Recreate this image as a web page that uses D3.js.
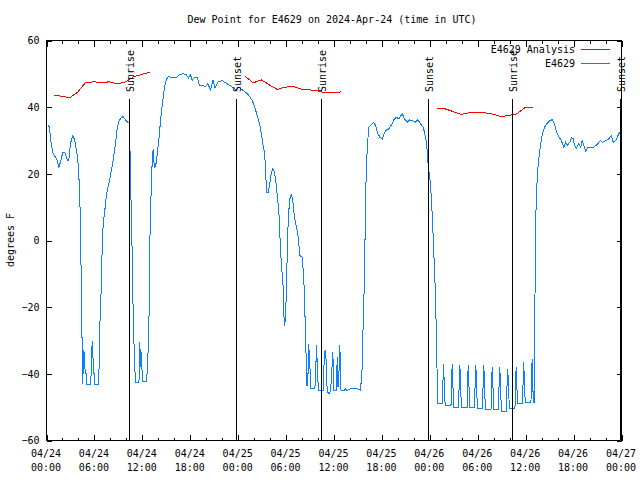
<!DOCTYPE html>
<html><head><meta charset="utf-8">
<script src="https://cdn.jsdelivr.net/npm/d3@7"></script>
<style>
html,body{margin:0;padding:0;background:#fff;}
svg{display:block;}
text{font-family:"DejaVu Sans Mono","Liberation Mono",monospace;font-size:10px;fill:#000;}
</style></head><body>
<svg id="chart" width="640" height="480"></svg>
<script>
const chartTitle = "Dew Point for E4629 on 2024-Apr-24 (time in UTC)";
const yAxisLabel = "degrees F";
const seriesNames = ["E4629 Analysis", "E4629"];
const seriesColors = ["#ff0000", "#0a80ff"];
const yTickValues = [-60, -40, -20, 0, 20, 40, 60];
const xTickHours = [0, 6, 12, 18, 24, 30, 36, 42, 48, 54, 60, 66, 72];
const xTickDayLabels = ["04/24","04/24","04/24","04/24","04/25","04/25","04/25","04/25","04/26","04/26","04/26","04/26","04/27"];
const xTickTimeLabels = ["00:00","06:00","12:00","18:00","00:00","06:00","12:00","18:00","00:00","06:00","12:00","18:00","00:00"];
const sunEventNames = ["Sunrise","Sunset","Sunrise","Sunset","Sunrise","Sunset"];
const sunEventHours = [10.31, 23.79, 34.31, 47.75, 58.27, 71.75];

// hours since 2024-04-24 00:00 UTC (null = gap)
const analysisHours = [0.9,1.9,2.9,3.9,4.9,5.9,6.9,7.9,8.9,9.9,10.9,11.9,12.9, 18,
  24.9,25.9,26.9,27.9,28.9,29.9,30.9,31.9,32.9,33.9,34.9,35.9,36.9, 42,
  48.9,49.9,50.9,51.9,52.9,53.9,54.9,55.9,56.9,57.9,58.9,59.9,60.9];
const analysisValues = [43.5,43.3,42.8,44.5,47.4,47.6,47.4,47.6,47.0,47.6,49.1,49.8,50.5, null,
  49.2,47.3,48.2,46.7,45.3,46.0,46.2,45.4,45.2,44.9,44.3,44.3,44.6, null,
  39.7,39.5,38.7,37.8,38.3,38.3,38.3,37.9,37.2,37.5,38.0,39.8,39.8];

const dewHours = [
  0.13,0.29,0.41,0.59,0.84,1.13,1.34,1.54,1.75,2.04,2.29,2.59,2.79,2.92,3.09,3.29,3.54,3.76,3.92,4.04,
  4.17,4.26,4.35,4.47,4.51,4.59,4.67,4.76,4.84,4.97,5.01,5.51,5.59,5.72,5.80,5.89,6.01,6.05,6.51,6.59,
  6.67,6.85,6.97,7.10,7.26,7.43,7.60,7.80,8.01,8.23,8.43,8.64,8.85,9.05,9.35,9.60,9.89,10.18,10.39,10.52,
  10.73,10.86,11.02,11.14,11.56,11.65,11.69,11.77,11.86,11.98,12.06,12.52,12.60,12.73,12.86,12.94,13.11,13.24,13.36,13.44,
  13.56,13.77,13.86,14.06,14.28,14.56,14.78,15.03,15.30,15.82,16.33,16.69,17.10,17.46,17.77,18.03,18.23,18.48,18.91,19.16,
  19.57,19.92,20.19,20.54,20.85,21.11,21.46,21.98,22.49,23.00,23.42,23.78,24.08,24.50,24.92,25.33,25.76,26.08,26.38,26.58,
  26.80,27.01,27.14,27.30,27.42,27.55,27.76,27.96,28.14,28.34,28.55,28.76,28.96,29.14,29.30,29.46,29.64,29.71,29.84,29.93,
  30.05,30.14,30.27,30.43,30.64,30.84,31.05,31.31,31.52,31.72,32.02,32.22,32.35,32.52,32.60,32.72,32.81,32.97,33.06,33.60,
  33.68,33.81,33.98,34.10,34.65,34.77,34.88,35.02,35.15,35.48,35.65,35.85,36.00,36.30,36.40,36.50,36.62,36.73,36.88,37.23,
  37.44,37.65,38.07,38.98,39.32,39.53,39.66,39.82,39.95,40.07,40.23,40.36,40.57,40.78,40.98,41.20,41.41,41.74,42.04,42.24,
  42.45,42.86,43.29,43.49,43.83,44.11,44.54,44.83,45.17,45.45,45.79,46.21,46.50,46.83,47.17,47.37,47.54,47.67,47.74,47.87,
  48.08,48.25,48.37,48.50,48.67,48.80,48.92,49.00,
  49.57,49.62,49.72,49.84,49.92,
  50.65,50.70,50.80,50.92,51.00,
  51.61,51.66,51.76,51.88,51.96,
  52.66,52.71,52.81,52.93,53.01,
  53.61,53.66,53.76,53.88,53.96,
  54.61,54.66,54.76,54.88,54.96,
  55.66,55.71,55.81,55.93,56.01,
  56.61,56.66,56.76,56.88,56.96,
  57.61,57.66,57.76,57.88,57.96,
  58.66,58.71,58.81,58.93,59.01,
  59.61,59.66,59.76,59.88,59.96,
  60.66,60.71,60.81,60.88,60.96,
  61.05,61.12,61.20,61.28,61.45,61.61,61.77,61.95,62.15,62.36,62.70,63.02,63.32,63.61,63.86,64.15,64.45,64.78,64.99,65.20,
  65.53,65.74,65.95,66.11,66.36,66.65,66.90,67.08,67.30,67.49,67.78,68.00,68.53,68.96,69.37,69.60,69.90,70.41,70.71,70.96,
  71.30,71.46,71.66,71.79];
const dewValues = [
  34.5,34.5,33,29,26,25,24,22,23.5,26.5,26.5,24.2,24,27.5,30,31.5,30,27,24,20,
  13,3,-12,-33,-43,-33,-40,-33.5,-40,-40,-43.2,-43.2,-40,-30.2,-33.5,-40,-40,-43.2,-43.2,-37.5,
  -26,-14.5,-2.5,5,8,12,15,17,19.5,22.5,25.5,29,33.5,35.8,36.8,37.2,36.2,35.5,35.5,19,
  -4,-23,-36,-42.5,-42.5,-40,-30.5,-38,-33.5,-40,-42.2,-42.2,-39.5,-33,-20.5,-0.5,15.5,24,27.5,23.5,
  22,23.5,26,30,36,42,46,48.5,49.2,48.8,49,49.8,50,49.8,48.8,49.8,48,48.8,48.8,46.5,
  46.5,46.2,47,45.2,48,45.8,47.5,48,47.2,46.5,45.8,45.2,46,45.2,44.5,43.5,42,40,37.5,36,
  33.5,30.5,28,26.5,22,14.5,14.5,17,20,21.5,20.5,17,12,7,-3,-8.5,-14,-22,-25.5,-22,
  -15,-4,6,12,14,12,7,4,1,-4.5,-5,-11.5,-21,-36,-43.5,-43.5,-31,-36,-44.5,-44.5,
  -41.5,-31.5,-42,-45,-45,-36,-33,-36,-45.5,-46,-42.5,-33.5,-45,-45,-35,-44,-40,-31.5,-45,-45,
  -44.5,-45,-44.5,-44.5,-45,-38,-24,-11,12,23,30,34,34.5,35,35.5,34.5,32.5,31,30.5,31.8,
  33,33.5,35,36.2,37,36.5,38,36.5,35.5,36.2,36,35.5,36.2,35,34,32,30,27,24,21,
  17,10,4,-4,-14,-26,-41,-48.8,
  -48.8,-44,-37,-45.5,-49.5,
  -49.5,-44,-37,-45.5,-50,
  -50,-44,-37.5,-45.5,-50,
  -50,-44,-37.5,-45.5,-50.2,
  -50.2,-44,-37.5,-45.5,-50.5,
  -50.5,-44,-37.5,-45.5,-50.8,
  -50.8,-44,-38,-45.5,-50.8,
  -50.8,-44,-38,-45.5,-51.2,
  -51.2,-44,-38.5,-45.5,-50.5,
  -50.5,-44,-38,-45.5,-49,
  -49,-44,-36.5,-45.5,-48.5,
  -48.5,-44,-35.5,-42,-48.5,
  -48.5,-26,-10,8,19,24,27,30,32.5,34,35.2,36,36.2,35,32.5,31.2,30,28,29.5,28.5,
  29.5,30.8,30.5,28.5,27.8,29,28,30,28.5,26.8,27.8,28,28,28.8,30,29.5,29.8,30.5,31.5,29.5,
  30,31,32,32.5];

const svg = d3.select("#chart");
const t0 = Date.UTC(2024, 3, 24, 0, 0);
const toDate = h => new Date(t0 + h * 3600000);
const x = d3.scaleUtc().domain([toDate(0), toDate(72)]).range([46.5, 621.5]);
const y = d3.scaleLinear().domain([-60, 60]).range([440.5, 40.5]);
const [xL, xR] = x.range();
const [yB, yT] = y.range();

const minorTicks = d3.range(0, 73, 2).map(toDate);
const majorTicks = xTickHours.map(toDate);

function tickAxis(axis, ticks, size, transform) {
  const g = svg.append("g").attr("transform", transform)
    .call(axis.tickValues(ticks).tickSizeInner(-size).tickSizeOuter(0).tickFormat(() => ""));
  g.select(".domain").remove();
  g.selectAll("line").attr("stroke", "#000").attr("shape-rendering", "crispEdges");
  g.selectAll("text").remove();
  return g;
}
tickAxis(d3.axisBottom(x), minorTicks, 3, `translate(0,${yB})`);
tickAxis(d3.axisBottom(x), majorTicks, 6, `translate(0,${yB})`);
tickAxis(d3.axisTop(x), minorTicks, 3, `translate(0,${yT})`);
tickAxis(d3.axisTop(x), majorTicks, 6, `translate(0,${yT})`);
tickAxis(d3.axisRight(y), yTickValues, 5, `translate(${xR},0)`);

// left axis with labels
const gl = svg.append("g").attr("transform", `translate(${xL},0)`)
  .call(d3.axisLeft(y).tickValues(yTickValues).tickSizeInner(-5).tickSizeOuter(0).tickPadding(7).tickFormat(d3.format("d")));
gl.select(".domain").remove();
gl.selectAll("line").attr("stroke", "#000").attr("shape-rendering", "crispEdges");
gl.selectAll("text").attr("fill", "#000").style("font-family", "DejaVu Sans Mono, monospace").style("font-size", "10px");

// x tick labels (two lines)
const xl = svg.append("g").selectAll("text").data(xTickHours).join("text")
  .attr("text-anchor", "middle")
  .attr("x", (d) => x(toDate(d)) - 0.5);
xl.append("tspan").attr("x", d => x(toDate(d)) - 0.5).attr("y", 457).text((d, i) => xTickDayLabels[i]);
xl.append("tspan").attr("x", d => x(toDate(d)) - 0.5).attr("y", 471).text((d, i) => xTickTimeLabels[i]);

// data lines
const analysisData = analysisHours.map((h, i) => ({ t: toDate(h), v: analysisValues[i] }));
const dewData = dewHours.map((h, i) => ({ t: toDate(h), v: dewValues[i] }));
const line = d3.line().defined(d => d.v !== null).x(d => x(d.t)).y(d => y(d.v));

svg.append("path").datum(dewData).attr("d", line)
  .attr("fill", "none").attr("stroke", seriesColors[1]).attr("stroke-width", 1)
  .attr("shape-rendering", "crispEdges");
svg.append("path").datum(analysisData).attr("d", line)
  .attr("fill", "none").attr("stroke", seriesColors[0]).attr("stroke-width", 1)
  .attr("shape-rendering", "crispEdges");

// sunrise / sunset markers
const sun = svg.append("g").selectAll("g").data(sunEventHours).join("g");
sun.append("line")
  .attr("x1", d => Math.round(x(toDate(d))) + 0.5).attr("x2", d => Math.round(x(toDate(d))) + 0.5)
  .attr("y1", 99).attr("y2", yB)
  .attr("stroke", "#000").attr("shape-rendering", "crispEdges");
sun.append("text")
  .attr("transform", d => `translate(${Math.round(x(toDate(d))) + 4.5},92) rotate(-90)`)
  .attr("text-anchor", "start")
  .text((d, i) => sunEventNames[i]);

// border
svg.append("rect").attr("x", xL).attr("y", yT).attr("width", xR - xL).attr("height", yB - yT)
  .attr("fill", "none").attr("stroke", "#000").attr("shape-rendering", "crispEdges");

// title & y label
svg.append("text").attr("x", 332).attr("y", 23).attr("text-anchor", "middle").text(chartTitle);
svg.append("text").attr("transform", "translate(14,240) rotate(-90)").attr("text-anchor", "middle").text(yAxisLabel);

// legend
const legend = svg.append("g").attr("class", "legend");
seriesNames.forEach((name, i) => {
  legend.append("text").attr("x", 575).attr("y", 53 + i * 14).attr("text-anchor", "end").text(name);
  legend.append("rect").attr("x", 581).attr("y", 49 + i * 14).attr("width", 29).attr("height", 1)
    .attr("fill", seriesColors[i]).attr("stroke", "none");
});
</script>
</body></html>
